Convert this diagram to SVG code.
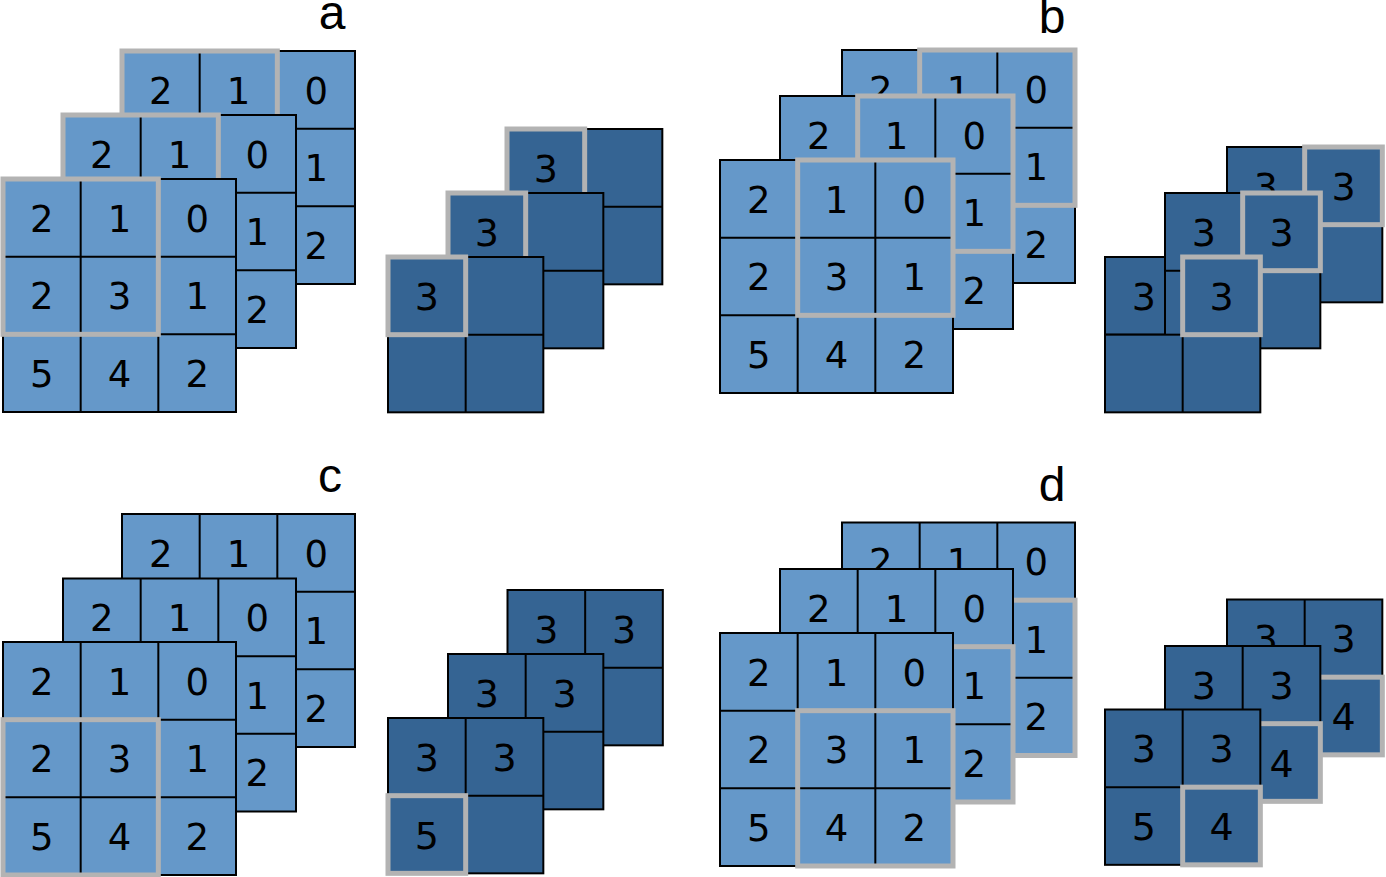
<svg xmlns="http://www.w3.org/2000/svg" xmlns:xlink="http://www.w3.org/1999/xlink" width="1386" height="877" viewBox="0 0 1386 877">
<style>
.L{fill:#6598c9;stroke:#000;stroke-width:2}
.D{fill:#356493;stroke:#000;stroke-width:2}
.hl{fill:none;stroke:#b3b3b3;stroke-width:5}
.n{font-family:"DejaVu Sans",sans-serif;font-size:37px;text-anchor:middle;fill:#000}
.m{font-family:"DejaVu Sans",sans-serif;font-size:38px;text-anchor:middle;fill:#000}
.lab{font-family:"Liberation Sans",Arial,sans-serif;font-size:48px;text-anchor:middle;fill:#000}
</style>
<defs>
<g id="g3"><rect width="233" height="233"/><path d="M77.67 0V233M155.33 0V233M0 77.67H233M0 155.33H233" fill="none"/></g>
<g id="g2"><rect width="155.33" height="155.33"/><path d="M77.67 0V155.33M0 77.67H155.33" fill="none"/></g>
<g id="tb"><text class="n" x="38.83" y="52.5">2</text><text class="n" x="116.5" y="52.5">1</text><text class="n" x="194.17" y="52.5">0</text><text class="n" x="194.17" y="130.2">1</text><text class="n" x="194.17" y="207.8">2</text></g>
<g id="tf"><text class="n" x="38.83" y="52.5">2</text><text class="n" x="116.5" y="52.5">1</text><text class="n" x="194.17" y="52.5">0</text><text class="n" x="38.83" y="130.2">2</text><text class="n" x="116.5" y="130.2">3</text><text class="n" x="194.17" y="130.2">1</text><text class="n" x="38.83" y="207.8">5</text><text class="n" x="116.5" y="207.8">4</text><text class="n" x="194.17" y="207.8">2</text></g>
</defs>
<rect width="1386" height="877" fill="#fff"/>

<!-- Panel a -->
<g id="a-in-back" transform="translate(122,51)"><use xlink:href="#g3" class="L"/><use xlink:href="#tb"/><rect class="hl" width="155.33" height="155.33"/></g>
<g id="a-in-mid" transform="translate(63,115)"><use xlink:href="#g3" class="L"/><use xlink:href="#tb"/><rect class="hl" width="155.33" height="155.33"/></g>
<g id="a-in-front" transform="translate(3,179)"><use xlink:href="#g3" class="L"/><use xlink:href="#tf"/><rect class="hl" width="155.33" height="155.33"/></g>
<g id="a-out-back" transform="translate(507,129)"><use xlink:href="#g2" class="D"/><text class="m" x="38.83" y="52.8">3</text><rect class="hl" width="77.67" height="77.67"/></g>
<g id="a-out-mid" transform="translate(448,193)"><use xlink:href="#g2" class="D"/><text class="m" x="38.83" y="52.8">3</text><rect class="hl" width="77.67" height="77.67"/></g>
<g id="a-out-front" transform="translate(388,257)"><use xlink:href="#g2" class="D"/><text class="m" x="38.83" y="52.8">3</text><rect class="hl" width="77.67" height="77.67"/></g>

<!-- Panel b -->
<g id="b-in-back" transform="translate(842,50)"><use xlink:href="#g3" class="L"/><use xlink:href="#tb"/><rect class="hl" x="77.67" width="155.33" height="155.33"/></g>
<g id="b-in-mid" transform="translate(780,96)"><use xlink:href="#g3" class="L"/><use xlink:href="#tb"/><rect class="hl" x="77.67" width="155.33" height="155.33"/></g>
<g id="b-in-front" transform="translate(720,160)"><use xlink:href="#g3" class="L"/><use xlink:href="#tf"/><rect class="hl" x="77.67" width="155.33" height="155.33"/></g>
<g id="b-out-back" transform="translate(1227,147)"><use xlink:href="#g2" class="D"/><text class="m" x="38.83" y="52.8">3</text><text class="m" x="116.5" y="52.8">3</text><rect class="hl" x="77.67" width="77.67" height="77.67"/></g>
<g id="b-out-front-cell" transform="translate(1105,257)"><rect class="D" width="77.67" height="77.67"/><text class="m" x="38.83" y="52.8">3</text></g>
<g id="b-out-mid" transform="translate(1165,193)"><use xlink:href="#g2" class="D"/><text class="m" x="38.83" y="52.8">3</text><text class="m" x="116.5" y="52.8">3</text><rect class="hl" x="77.67" width="77.67" height="77.67"/></g>
<g id="b-out-front" transform="translate(1105,257)"><rect class="D" x="77.67" width="77.67" height="77.67"/><rect class="D" y="77.67" width="155.33" height="77.67"/><path d="M77.67 77.67V155.33" stroke="#000" stroke-width="2"/><text class="m" x="116.5" y="52.8">3</text><rect class="hl" x="77.67" width="77.67" height="77.67"/></g>

<!-- Panel c -->
<g id="c-in-back" transform="translate(122,514)"><use xlink:href="#g3" class="L"/><use xlink:href="#tb"/></g>
<g id="c-in-mid" transform="translate(63,578.5)"><use xlink:href="#g3" class="L"/><use xlink:href="#tb"/></g>
<g id="c-in-front" transform="translate(3,642)"><use xlink:href="#g3" class="L"/><use xlink:href="#tf"/><rect class="hl" y="77.67" width="155.33" height="155.33"/></g>
<g id="c-out-back" transform="translate(507.5,590)"><use xlink:href="#g2" class="D"/><text class="m" x="38.83" y="52.8">3</text><text class="m" x="116.5" y="52.8">3</text></g>
<g id="c-out-mid" transform="translate(448,654)"><use xlink:href="#g2" class="D"/><text class="m" x="38.83" y="52.8">3</text><text class="m" x="116.5" y="52.8">3</text></g>
<g id="c-out-front" transform="translate(388,718)"><use xlink:href="#g2" class="D"/><text class="m" x="38.83" y="52.8">3</text><text class="m" x="116.5" y="52.8">3</text><text class="m" x="38.83" y="130.5">5</text><rect class="hl" y="77.67" width="77.67" height="77.67"/></g>

<!-- Panel d -->
<g id="d-in-back" transform="translate(842,522.5)"><use xlink:href="#g3" class="L"/><use xlink:href="#tb"/><rect class="hl" x="77.67" y="77.67" width="155.33" height="155.33"/></g>
<g id="d-in-mid" transform="translate(780,569)"><use xlink:href="#g3" class="L"/><use xlink:href="#tb"/><rect class="hl" x="77.67" y="77.67" width="155.33" height="155.33"/></g>
<g id="d-in-front" transform="translate(720,633)"><use xlink:href="#g3" class="L"/><use xlink:href="#tf"/><rect class="hl" x="77.67" y="77.67" width="155.33" height="155.33"/></g>
<g id="d-out-back" transform="translate(1227,599.5)"><use xlink:href="#g2" class="D"/><text class="m" x="38.83" y="52.8">3</text><text class="m" x="116.5" y="52.8">3</text><text class="m" x="116.5" y="130.5">4</text><rect class="hl" x="77.67" y="77.67" width="77.67" height="77.67"/></g>
<g id="d-out-mid" transform="translate(1165,646)"><use xlink:href="#g2" class="D"/><text class="m" x="38.83" y="52.8">3</text><text class="m" x="116.5" y="52.8">3</text><text class="m" x="116.5" y="130.5">4</text><rect class="hl" x="77.67" y="77.67" width="77.67" height="77.67"/></g>
<g id="d-out-front" transform="translate(1105,709.5)"><use xlink:href="#g2" class="D"/><text class="m" x="38.83" y="52.8">3</text><text class="m" x="116.5" y="52.8">3</text><text class="m" x="38.83" y="130.5">5</text><text class="m" x="116.5" y="130.5">4</text><rect class="hl" x="77.67" y="77.67" width="77.67" height="77.67"/></g>

<g id="labels">
<text class="lab" x="332" y="29">a</text>
<text class="lab" x="1052" y="33">b</text>
<text class="lab" x="330" y="492">c</text>
<text class="lab" x="1052" y="501">d</text>
</g>
</svg>
